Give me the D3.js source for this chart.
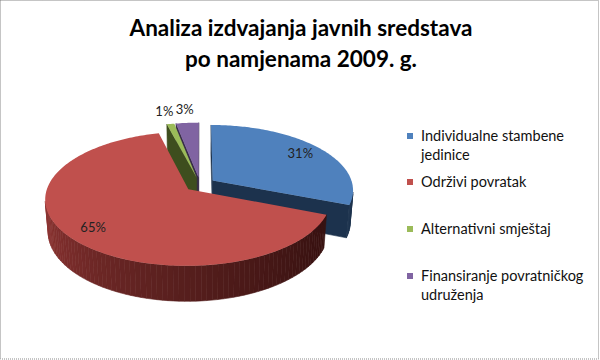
<!DOCTYPE html>
<html><head><meta charset="utf-8">
<script src="https://cdn.jsdelivr.net/npm/d3@7"></script>
<style>body{margin:0;background:#fff}svg{display:block}</style>
</head><body>
<svg id="chart" width="600" height="360"></svg>
<script>
// ---- data ----
const categories = ["Individualne stambene jedinice", "Održivi povratak", "Alternativni smještaj", "Finansiranje povratničkog udruženja"];
const legendLines = [["Individualne stambene", "jedinice"], ["Održivi povratak"], ["Alternativni smještaj"], ["Finansiranje povratničkog", "udruženja"]];
const values = [31, 65, 1, 3];
const valueLabels = ["31%", "65%", "1%", "3%"];
const titleLines = ["Analiza izdvajanja javnih sredstava", "po namjenama 2009. g."];

// ---- style ----
const topColors = ["#4F81BD", "#C0504D", "#9BBB59", "#8064A2"];
const sideLight = ["#2E4E74", "#913634", "#55692C", "#4A3A60"];
const sideDark  = ["#1C324D", "#361110", "#3E4E1E", "#382C4A"];

const svg = d3.select("#chart");
svg.append("rect").attr("x", 0.5).attr("y", 0.5).attr("width", 598).attr("height", 358.5)
  .attr("fill", "#fff").attr("stroke", "#8a8a8a").attr("stroke-dasharray", "1,1");

// title
const title = svg.append("text").attr("text-anchor", "middle")
  .attr("font-family", "Lato, 'Open Sans', sans-serif").attr("font-weight", "bold")
  .attr("font-size", 22.5).attr("fill", "#000");
title.append("tspan").attr("x", 301).attr("y", 36).text(titleLines[0]);
title.append("tspan").attr("x", 301).attr("y", 67).text(titleLines[1]);

// ---- 3D pie projection ----
const S = 140, sinA = 0.46, cosA = Math.sqrt(1 - sinA * sinA), P = 0.158, DEP = 0.26;
const CX = 200, CY = 184.5, EXP = 0.11;
function proj(x, z, y) {
  const k = 1 / (1 + P * (z * cosA - y * sinA));
  return [CX + S * x * k, CY - S * (z * sinA + y * cosA) * k];
}
const arcs = d3.pie().sort(null).value(d => d)(values);
const visCos = -P / cosA; // outer wall visible where cos(theta) < visCos
const step = Math.PI / 180;

const walls = [], tops = [];
arcs.forEach((a, i) => {
  const mid = (a.startAngle + a.endAngle) / 2;
  const ox = EXP * Math.sin(mid), oz = EXP * Math.cos(mid);
  const rim = (t, y, r = 1) => proj(ox + r * Math.sin(t), oz + r * Math.cos(t), y);
  const apex = y => proj(ox, oz, y);
  // top face
  const tp = [apex(0)];
  const n = Math.max(2, Math.ceil((a.endAngle - a.startAngle) / step));
  for (let j = 0; j <= n; j++) tp.push(rim(a.startAngle + (a.endAngle - a.startAngle) * j / n, 0));
  tops.push({pts: tp, color: topColors[i]});
  // outer wall segments
  const tv0 = Math.acos(visCos), tv1 = 2 * Math.PI - tv0;
  const w0 = Math.max(a.startAngle, tv0), w1 = Math.min(a.endAngle, tv1);
  if (w1 > w0) {
    const m = Math.ceil((w1 - w0) / (step * 2));
    const shade = d3.scaleLinear().domain([tv0, tv1]).range([0, 1]);
    for (let j = 0; j < m; j++) {
      const t0 = w0 + (w1 - w0) * j / m, t1 = w0 + (w1 - w0) * (j + 1) / m;
      const tm = (t0 + t1) / 2;
      walls.push({pts: [rim(t0, 0), rim(t1, 0), rim(t1, -DEP), rim(t0, -DEP)],
        color: d3.interpolateRgb(sideDark[i], sideLight[i])(Math.pow(shade(tm), 1.5)),
        z: oz + Math.cos(tm)});
    }
  }
  // radial faces
  const camZ = -1 / P * cosA;
  [[a.startAngle, -1], [a.endAngle, 1]].forEach(([t, s]) => {
    const nx = s * Math.cos(t), nz = -s * Math.sin(t);
    if (nz * camZ - (nx * ox + nz * oz) > 0) {
      walls.push({pts: [apex(0), rim(t, 0), rim(t, -DEP), apex(-DEP)],
        color: sideDark[i], z: oz + 0.5 * Math.cos(t)});
    }
  });
});
walls.sort((p, q) => q.z - p.z);
const line = d3.line();
const g = svg.append("g");
walls.forEach(w => g.append("path").attr("d", line(w.pts) + "Z")
  .attr("fill", w.color).attr("stroke", w.color).attr("stroke-width", 0.6));
tops.forEach(t => g.append("path").attr("d", line(t.pts) + "Z").attr("fill", t.color));

// data labels
arcs.forEach((a, i) => {
  const mid = (a.startAngle + a.endAngle) / 2;
  const ox = EXP * Math.sin(mid), oz = EXP * Math.cos(mid);
  const r = values[i] < 5 ? 1.28 : 0.82;
  const [x, y] = proj(ox + r * Math.sin(mid), oz + r * Math.cos(mid), 0);
  svg.append("text").attr("x", x).attr("y", y).attr("dy", "0.35em")
    .attr("text-anchor", "middle").attr("font-family", "Lato, 'Open Sans', sans-serif")
    .attr("font-size", 13).attr("fill", "#222").text(valueLabels[i]);
});

// legend
const legendY = [141, 187, 234, 281];
legendLines.forEach((lines, i) => {
  svg.append("rect").attr("x", 407).attr("y", legendY[i] - 8).attr("width", 6).attr("height", 6)
    .attr("fill", topColors[i]);
  const t = svg.append("text").attr("font-family", "Lato, 'Open Sans', sans-serif")
    .attr("font-size", 14.5).attr("fill", "#111");
  lines.forEach((s, j) => t.append("tspan").attr("x", 421).attr("y", legendY[i] + j * 18.5).text(s));
});
</script>
</body></html>
